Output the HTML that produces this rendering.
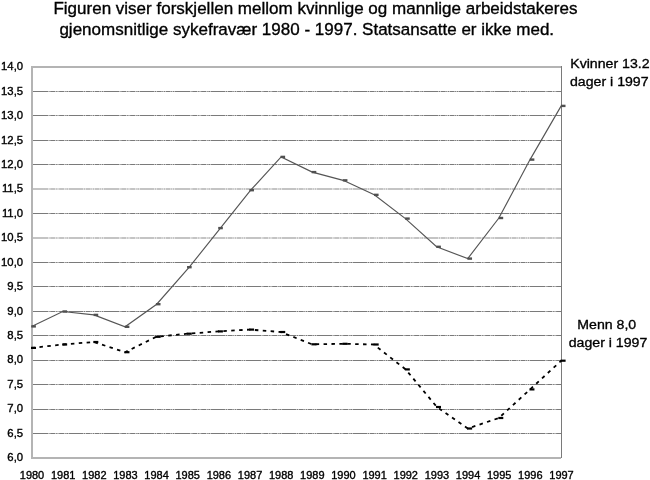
<!DOCTYPE html>
<html><head><meta charset="utf-8"><style>
html,body{margin:0;padding:0;background:#fff;}
body{width:650px;height:480px;overflow:hidden;position:relative;}
svg{position:absolute;left:0;top:0;will-change:transform;}
text{font-family:"Liberation Sans",sans-serif;fill:#000;stroke:#000;stroke-width:0.35px;}
.ax{font-size:11px;}
.t{font-size:17px;}
.lab{font-size:14px;}
</style></head><body>
<svg width="650" height="480" viewBox="0 0 650 480">
<g transform="translate(53.4,14) scale(1.002,1)"><text class="t" x="0" y="0">Figuren viser forskjellen mellom kvinnlige og mannlige arbeidstakeres</text></g>
<g transform="translate(59.4,34.6) scale(1.002,1)"><text class="t" x="0" y="0">gjenomsnitlige sykefravær 1980 - 1997. Statsansatte er ikke med.</text></g>
<line x1="33" y1="91.5" x2="561" y2="91.5" stroke="#7a7a7a" stroke-width="1" stroke-dasharray="15 0.5 1.2 0.5 5 0.5 1.2 0.5 1.2 0.5 5 0.5 1.2 0.5 1.7 0.5"/>
<line x1="33" y1="115.5" x2="561" y2="115.5" stroke="#7a7a7a" stroke-width="1" stroke-dasharray="15 0.5 1.2 0.5 5 0.5 1.2 0.5 1.2 0.5 5 0.5 1.2 0.5 1.7 0.5"/>
<line x1="33" y1="140.5" x2="561" y2="140.5" stroke="#7a7a7a" stroke-width="1" stroke-dasharray="15 0.5 1.2 0.5 5 0.5 1.2 0.5 1.2 0.5 5 0.5 1.2 0.5 1.7 0.5"/>
<line x1="33" y1="164.5" x2="561" y2="164.5" stroke="#7a7a7a" stroke-width="1" stroke-dasharray="15 0.5 1.2 0.5 5 0.5 1.2 0.5 1.2 0.5 5 0.5 1.2 0.5 1.7 0.5"/>
<line x1="33" y1="189" x2="561" y2="189" stroke="#c4c4c4" stroke-width="2" stroke-dasharray="15 0.5 1.2 0.5 5 0.5 1.2 0.5 1.2 0.5 5 0.5 1.2 0.5 1.7 0.5"/>
<line x1="33" y1="213.5" x2="561" y2="213.5" stroke="#7a7a7a" stroke-width="1" stroke-dasharray="15 0.5 1.2 0.5 5 0.5 1.2 0.5 1.2 0.5 5 0.5 1.2 0.5 1.7 0.5"/>
<line x1="33" y1="238" x2="561" y2="238" stroke="#c4c4c4" stroke-width="2" stroke-dasharray="15 0.5 1.2 0.5 5 0.5 1.2 0.5 1.2 0.5 5 0.5 1.2 0.5 1.7 0.5"/>
<line x1="33" y1="262.5" x2="561" y2="262.5" stroke="#7a7a7a" stroke-width="1" stroke-dasharray="15 0.5 1.2 0.5 5 0.5 1.2 0.5 1.2 0.5 5 0.5 1.2 0.5 1.7 0.5"/>
<line x1="33" y1="286.5" x2="561" y2="286.5" stroke="#7a7a7a" stroke-width="1" stroke-dasharray="15 0.5 1.2 0.5 5 0.5 1.2 0.5 1.2 0.5 5 0.5 1.2 0.5 1.7 0.5"/>
<line x1="33" y1="311.5" x2="561" y2="311.5" stroke="#7a7a7a" stroke-width="1" stroke-dasharray="15 0.5 1.2 0.5 5 0.5 1.2 0.5 1.2 0.5 5 0.5 1.2 0.5 1.7 0.5"/>
<line x1="33" y1="335.5" x2="561" y2="335.5" stroke="#7a7a7a" stroke-width="1" stroke-dasharray="15 0.5 1.2 0.5 5 0.5 1.2 0.5 1.2 0.5 5 0.5 1.2 0.5 1.7 0.5"/>
<line x1="33" y1="360.5" x2="561" y2="360.5" stroke="#7a7a7a" stroke-width="1" stroke-dasharray="15 0.5 1.2 0.5 5 0.5 1.2 0.5 1.2 0.5 5 0.5 1.2 0.5 1.7 0.5"/>
<line x1="33" y1="384.5" x2="561" y2="384.5" stroke="#7a7a7a" stroke-width="1" stroke-dasharray="15 0.5 1.2 0.5 5 0.5 1.2 0.5 1.2 0.5 5 0.5 1.2 0.5 1.7 0.5"/>
<line x1="33" y1="409.5" x2="561" y2="409.5" stroke="#7a7a7a" stroke-width="1" stroke-dasharray="15 0.5 1.2 0.5 5 0.5 1.2 0.5 1.2 0.5 5 0.5 1.2 0.5 1.7 0.5"/>
<line x1="33" y1="433.5" x2="561" y2="433.5" stroke="#7a7a7a" stroke-width="1" stroke-dasharray="15 0.5 1.2 0.5 5 0.5 1.2 0.5 1.2 0.5 5 0.5 1.2 0.5 1.7 0.5"/>
<rect x="31" y="66" width="530" height="2" fill="#b4b4b4"/>
<rect x="31" y="66" width="2" height="393" fill="#b4b4b4"/>
<rect x="31" y="457" width="530" height="2" fill="#b4b4b4"/>
<rect x="561" y="66" width="1" height="392" fill="#7a7a7a"/>
<polyline points="31.60,326.40 62.75,311.50 93.91,314.90 125.06,326.80 156.71,304.20 189.26,267.20 220.42,228.10 250.67,190.20 281.12,156.90 312.28,172.10 343.13,180.35 374.28,194.85 405.44,218.60 436.59,246.80 467.74,258.60 498.89,218.00 530.05,159.60 561.20,105.90" fill="none" stroke="#555" stroke-width="1.15"/>
<rect x="31.30" y="325.20" width="4.6" height="2.4" fill="#505050"/>
<rect x="62.45" y="310.30" width="4.6" height="2.4" fill="#505050"/>
<rect x="93.61" y="313.70" width="4.6" height="2.4" fill="#505050"/>
<rect x="124.76" y="325.60" width="4.6" height="2.4" fill="#505050"/>
<rect x="155.91" y="303.00" width="4.6" height="2.4" fill="#505050"/>
<rect x="187.06" y="266.00" width="4.6" height="2.4" fill="#505050"/>
<rect x="218.22" y="226.90" width="4.6" height="2.4" fill="#505050"/>
<rect x="249.37" y="189.00" width="4.6" height="2.4" fill="#505050"/>
<rect x="280.52" y="155.70" width="4.6" height="2.4" fill="#505050"/>
<rect x="311.68" y="170.90" width="4.6" height="2.4" fill="#505050"/>
<rect x="342.83" y="179.15" width="4.6" height="2.4" fill="#505050"/>
<rect x="373.98" y="193.65" width="4.6" height="2.4" fill="#505050"/>
<rect x="405.14" y="217.40" width="4.6" height="2.4" fill="#505050"/>
<rect x="436.29" y="245.60" width="4.6" height="2.4" fill="#505050"/>
<rect x="467.44" y="257.40" width="4.6" height="2.4" fill="#505050"/>
<rect x="498.59" y="216.80" width="4.6" height="2.4" fill="#505050"/>
<rect x="529.75" y="158.40" width="4.6" height="2.4" fill="#505050"/>
<rect x="560.90" y="104.70" width="4.6" height="2.4" fill="#505050"/>
<polyline points="31.60,347.90 62.75,344.50 93.91,342.00 125.06,352.20 156.21,336.80 187.36,333.70 218.52,331.40 249.67,329.60 280.82,332.00 311.98,344.30 343.13,343.80 373.78,344.50 405.64,369.40 436.89,407.00 467.74,428.50 498.89,418.00 530.05,389.40 561.20,360.70" fill="none" stroke="#000" stroke-width="1.8" stroke-dasharray="3.5 4.4"/>
<rect x="31.00" y="346.80" width="5" height="2.2" fill="#000"/>
<rect x="62.15" y="343.40" width="5" height="2.2" fill="#000"/>
<rect x="93.31" y="340.90" width="5" height="2.2" fill="#000"/>
<rect x="124.46" y="351.10" width="5" height="2.2" fill="#000"/>
<rect x="155.61" y="335.70" width="5" height="2.2" fill="#000"/>
<rect x="186.76" y="332.60" width="5" height="2.2" fill="#000"/>
<rect x="217.92" y="330.30" width="5" height="2.2" fill="#000"/>
<rect x="249.07" y="328.50" width="5" height="2.2" fill="#000"/>
<rect x="280.22" y="330.90" width="5" height="2.2" fill="#000"/>
<rect x="311.38" y="343.20" width="5" height="2.2" fill="#000"/>
<rect x="342.53" y="342.70" width="5" height="2.2" fill="#000"/>
<rect x="373.68" y="343.40" width="5" height="2.2" fill="#000"/>
<rect x="404.84" y="368.30" width="5" height="2.2" fill="#000"/>
<rect x="435.99" y="405.90" width="5" height="2.2" fill="#000"/>
<rect x="467.14" y="427.40" width="5" height="2.2" fill="#000"/>
<rect x="498.29" y="416.90" width="5" height="2.2" fill="#000"/>
<rect x="529.45" y="388.30" width="5" height="2.2" fill="#000"/>
<rect x="560.60" y="359.60" width="5" height="2.2" fill="#000"/>
<g class="ax">
<g transform="translate(23.1,70.30) scale(1.03,1.07)"><text x="0" y="0" text-anchor="end">14,0</text></g>
<g transform="translate(23.1,94.72) scale(1.03,1.07)"><text x="0" y="0" text-anchor="end">13,5</text></g>
<g transform="translate(23.1,119.14) scale(1.03,1.07)"><text x="0" y="0" text-anchor="end">13,0</text></g>
<g transform="translate(23.1,143.56) scale(1.03,1.07)"><text x="0" y="0" text-anchor="end">12,5</text></g>
<g transform="translate(23.1,167.98) scale(1.03,1.07)"><text x="0" y="0" text-anchor="end">12,0</text></g>
<g transform="translate(23.1,192.40) scale(1.03,1.07)"><text x="0" y="0" text-anchor="end">11,5</text></g>
<g transform="translate(23.1,216.82) scale(1.03,1.07)"><text x="0" y="0" text-anchor="end">11,0</text></g>
<g transform="translate(23.1,241.24) scale(1.03,1.07)"><text x="0" y="0" text-anchor="end">10,5</text></g>
<g transform="translate(23.1,265.66) scale(1.03,1.07)"><text x="0" y="0" text-anchor="end">10,0</text></g>
<g transform="translate(23.1,290.08) scale(1.03,1.07)"><text x="0" y="0" text-anchor="end">9,5</text></g>
<g transform="translate(23.1,314.50) scale(1.03,1.07)"><text x="0" y="0" text-anchor="end">9,0</text></g>
<g transform="translate(23.1,338.92) scale(1.03,1.07)"><text x="0" y="0" text-anchor="end">8,5</text></g>
<g transform="translate(23.1,363.34) scale(1.03,1.07)"><text x="0" y="0" text-anchor="end">8,0</text></g>
<g transform="translate(23.1,387.76) scale(1.03,1.07)"><text x="0" y="0" text-anchor="end">7,5</text></g>
<g transform="translate(23.1,412.18) scale(1.03,1.07)"><text x="0" y="0" text-anchor="end">7,0</text></g>
<g transform="translate(23.1,436.60) scale(1.03,1.07)"><text x="0" y="0" text-anchor="end">6,5</text></g>
<g transform="translate(23.1,461.02) scale(1.03,1.07)"><text x="0" y="0" text-anchor="end">6,0</text></g>
<g transform="translate(32.00,478.6) scale(1,1.04)"><text x="0" y="0" text-anchor="middle">1980</text></g>
<g transform="translate(63.15,478.6) scale(1,1.04)"><text x="0" y="0" text-anchor="middle">1981</text></g>
<g transform="translate(94.29,478.6) scale(1,1.04)"><text x="0" y="0" text-anchor="middle">1982</text></g>
<g transform="translate(125.44,478.6) scale(1,1.04)"><text x="0" y="0" text-anchor="middle">1983</text></g>
<g transform="translate(156.59,478.6) scale(1,1.04)"><text x="0" y="0" text-anchor="middle">1984</text></g>
<g transform="translate(187.73,478.6) scale(1,1.04)"><text x="0" y="0" text-anchor="middle">1985</text></g>
<g transform="translate(218.88,478.6) scale(1,1.04)"><text x="0" y="0" text-anchor="middle">1986</text></g>
<g transform="translate(250.03,478.6) scale(1,1.04)"><text x="0" y="0" text-anchor="middle">1987</text></g>
<g transform="translate(281.18,478.6) scale(1,1.04)"><text x="0" y="0" text-anchor="middle">1988</text></g>
<g transform="translate(312.32,478.6) scale(1,1.04)"><text x="0" y="0" text-anchor="middle">1989</text></g>
<g transform="translate(343.47,478.6) scale(1,1.04)"><text x="0" y="0" text-anchor="middle">1990</text></g>
<g transform="translate(374.62,478.6) scale(1,1.04)"><text x="0" y="0" text-anchor="middle">1991</text></g>
<g transform="translate(405.76,478.6) scale(1,1.04)"><text x="0" y="0" text-anchor="middle">1992</text></g>
<g transform="translate(436.91,478.6) scale(1,1.04)"><text x="0" y="0" text-anchor="middle">1993</text></g>
<g transform="translate(468.06,478.6) scale(1,1.04)"><text x="0" y="0" text-anchor="middle">1994</text></g>
<g transform="translate(499.20,478.6) scale(1,1.04)"><text x="0" y="0" text-anchor="middle">1995</text></g>
<g transform="translate(530.35,478.6) scale(1,1.04)"><text x="0" y="0" text-anchor="middle">1996</text></g>
<g transform="translate(561.50,478.6) scale(1,1.04)"><text x="0" y="0" text-anchor="middle">1997</text></g>
</g>
<g transform="translate(570.2,68.4) scale(1.01,0.95)"><text class="lab" x="0" y="0">Kvinner 13.2</text></g>
<g transform="translate(570,86) scale(1.01,0.95)"><text class="lab" x="0" y="0">dager i 1997</text></g>
<g transform="translate(577.3,328.7) scale(1.01,0.95)"><text class="lab" x="0" y="0">Menn 8,0</text></g>
<g transform="translate(568.7,346.8) scale(1.01,0.95)"><text class="lab" x="0" y="0">dager i 1997</text></g>
</svg>
</body></html>
